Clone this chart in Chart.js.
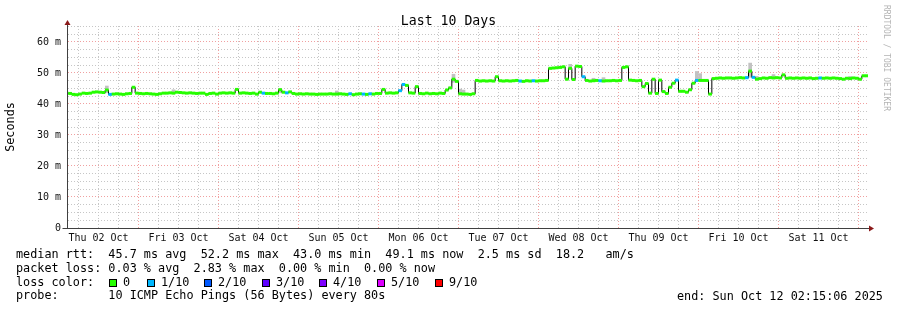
<!DOCTYPE html>
<html>
<head>
<meta charset="utf-8">
<title>Last 10 Days</title>
<script src="https://cdn.jsdelivr.net/npm/chart.js@4.4.0/dist/chart.umd.min.js"></script>
<style>
  html,body{margin:0;padding:0;background:#fff}
  #wrap{position:relative;width:897px;height:310px;overflow:hidden;font-family:'DejaVu Sans Mono',monospace;color:#000}
  #chart{position:absolute;left:0;top:0}
  .t{position:absolute;white-space:pre;font-size:11.8px;line-height:14px}
  .sw{position:absolute;top:279px;width:6px;height:6px;border:1px solid #000}
  #title{position:absolute;left:0;top:13px;width:897px;text-align:center;font-size:13.2px;line-height:16px}
  #mark{position:absolute;left:881px;top:5px;writing-mode:vertical-rl;font-size:8px;line-height:10px;color:#b4b4b4;white-space:pre}
</style>
</head>
<body>
<div id="wrap">
  <canvas id="chart" width="897" height="310"></canvas>
  <div id="title">Last 10 Days</div>
  <div id="mark">RRDTOOL / TOBI OETIKER</div>
  <div class="t" style="left:16px;top:247px">median rtt:  45.7 ms avg  52.2 ms max  43.0 ms min  49.1 ms now  2.5 ms sd  18.2   am/s</div>
  <div class="t" style="left:16px;top:261px">packet loss: 0.03 % avg  2.83 % max  0.00 % min  0.00 % now</div>
  <div class="t" style="left:16px;top:275px">loss color:</div>
  <div id="losslegend"></div>
  <div class="t" style="left:16px;top:288px">probe:       10 ICMP Echo Pings (56 Bytes) every 80s</div>
  <div class="t" style="left:677px;top:289px">end: Sun Oct 12 02:15:06 2025</div>
</div>
<script>
function $(id){return document.getElementById(id)}

const dayLabels = ['Thu 02 Oct','Fri 03 Oct','Sat 04 Oct','Sun 05 Oct','Mon 06 Oct',
  'Tue 07 Oct','Wed 08 Oct','Thu 09 Oct','Fri 10 Oct','Sat 11 Oct'];

// median rtt in ms, one value per hour starting at 00:00 of each day
const rttOct02 = [43.5,43.5,43.5,43.4,43.1,43.0,43.2,43.5,43.4,43.5,43.8,43.9,43.8,43.7,44.5,43.1,43.2,43.3,43.2,43.1,43.3,43.4,45.4,43.5];
const rttOct03 = [43.4,43.3,43.4,43.3,43.2,43.1,43.3,43.5,43.5,43.6,43.5,43.8,43.7,43.6,43.5,43.6,43.5,43.4,43.5,43.5,43.1,43.4,43.5,43.2];
const rttOct04 = [43.5,43.6,43.5,43.6,43.5,44.7,43.5,43.6,43.5,43.4,43.5,43.2,43.8,43.5,43.4,43.4,43.3,43.5,44.6,43.8,43.6,43.9,43.4,43.2];
const rttOct05 = [43.3,43.2,43.3,43.2,43.2,43.1,43.2,43.2,43.2,43.3,43.2,43.2,43.3,43.2,43.1,43.3,43.0,43.2,43.3,43.2,43.1,43.3,43.2,43.4];
const rttOct06 = [43.4,44.7,43.5,43.6,43.5,43.6,44.3,46.3,46.0,43.6,43.5,45.6,43.4,43.3,43.5,43.3,43.4,43.3,43.5,43.4,44.5,45.2,48.0,47.3];
const rttOct07 = [43.3,43.2,43.2,43.1,43.3,47.6,47.4,47.5,47.4,47.5,47.4,48.8,47.5,47.4,47.5,47.4,47.5,47.6,47.4,47.3,47.5,47.4,47.5,47.4];
const rttOct08 = [47.5,47.5,47.6,51.5,51.6,51.7,51.8,52.0,48.0,51.5,47.9,52.2,52.1,48.8,47.6,47.4,47.5,47.6,47.5,47.4,47.5,47.5,47.6,47.5];
const rttOct09 = [47.6,51.8,52.0,47.7,47.6,47.5,47.6,45.6,46.6,43.5,48.0,43.4,47.7,44.0,43.4,45.4,46.7,47.7,44.1,44.1,43.8,44.6,46.7,47.6];
const rttOct10 = [47.6,47.6,47.6,43.2,48.2,48.3,48.4,48.3,48.4,48.4,48.3,48.4,48.5,48.4,48.5,50.6,48.6,48.0,48.2,48.4,48.3,48.5,48.4,48.5];
const rttOct11 = [48.4,49.4,48.3,48.4,48.3,48.4,48.3,48.4,48.3,48.4,48.2,48.3,48.4,48.3,48.4,48.3,48.4,48.3,48.2,48.0,48.3,48.2,48.4,48.3];
const rttOct12 = [48.0,49.1,49.1];

// hours (from Oct 02 00:00) with 1/10 packets lost
const lossHours = [15,61,68,87,91,93,102,103,138,142,157,162,185,191,206,208,228];

// smoke: spread of the pings where it is visible
const smokeHours = [14,34,66,83,118,120,121,153,160,163,191,192,207,209,214,237];
const smokeLow   = [43.6,43.5,43.6,43.2,47.0,43.3,43.2,51.5,47.5,47.4,47.6,47.6,48.6,48.0,48.4,48.3];
const smokeHigh  = [45.8,44.6,45.0,44.2,49.6,44.8,44.5,52.8,48.3,48.5,50.5,49.8,53.2,48.9,49.5,48.9];

// loss colour legend
const lossNames  = ['0','1/10','2/10','3/10','4/10','5/10','9/10'];
const lossColors = ['#26ff00','#00b8ff','#0059ff','#5e00ff','#7e00ff','#dd00ff','#ff0000'];

const FONT = "'DejaVu Sans Mono', monospace";
const MAJOR = '#f0a0a0';
const MINOR = '#c6c6c6';

function buildLegend(){
  const boxX = [109,147,204,262,319,377,435];
  let html = '';
  lossNames.forEach((n,i)=>{
    html += `<div class="sw" style="left:${boxX[i]}px;background:${lossColors[i]}"></div>`;
    html += `<div class="t" style="left:${boxX[i]+14}px;top:275px">${n}</div>`;
  });
  $('losslegend').innerHTML = html;
}

const rttDays = [rttOct02,rttOct03,rttOct04,rttOct05,rttOct06,rttOct07,rttOct08,rttOct09,rttOct10,rttOct11,rttOct12];
const medianPts = [];
rttDays.forEach((vals,d)=>vals.forEach((v,j)=>medianPts.push({x: d*24 + j + 0.5, y: v})));
const smokePts = smokeHours.map((h,i)=>({x: h + 0.5, y: [smokeLow[i], smokeHigh[i]]}));

// draws the axis extensions and the two arrow heads
const axisArrows = {
  id: 'axisArrows',
  afterDraw(chart){
    const {ctx, chartArea: a} = chart;
    const l = Math.round(a.left) + 0.5, b = Math.round(a.bottom) + 0.5;
    ctx.save();
    ctx.strokeStyle = '#404040';
    ctx.lineWidth = 1;
    ctx.beginPath();
    ctx.moveTo(l - 5, b); ctx.lineTo(a.right + 2, b);
    ctx.moveTo(l, b); ctx.lineTo(l, a.top - 2);
    ctx.stroke();
    ctx.fillStyle = '#8b1a1a';
    ctx.beginPath();
    ctx.moveTo(l - 3, a.top - 1); ctx.lineTo(l + 3, a.top - 1); ctx.lineTo(l, a.top - 6);
    ctx.closePath(); ctx.fill();
    ctx.beginPath();
    ctx.moveTo(a.right + 1, b - 3); ctx.lineTo(a.right + 1, b + 3); ctx.lineTo(a.right + 6, b);
    ctx.closePath(); ctx.fill();
    ctx.restore();
  }
};

function drawChart(){
  new Chart($('chart').getContext('2d'), {
    type: 'line',
    data: {
      datasets: [
        {
          label: 'median',
          data: medianPts,
          showLine: false,
          pointStyle: 'line',
          pointRadius: 1.8,
          pointBorderWidth: 3,
          pointBorderColor: c => lossHours.includes(Math.floor(c.raw.x)) ? lossColors[1] : lossColors[0],
          order: 0
        },
        {
          label: 'median line',
          data: medianPts,
          stepped: 'middle',
          borderColor: '#000',
          borderWidth: 1,
          pointRadius: 0,
          fill: false,
          order: 1
        },
        {
          type: 'bar',
          label: 'smoke',
          data: smokePts,
          backgroundColor: '#c2c2c2',
          barThickness: 3,
          order: 2
        }
      ]
    },
    options: {
      responsive: false,
      animation: false,
      devicePixelRatio: 1,
      events: [],
      layout: {padding: {left: 0, right: 29, top: 26, bottom: 62}},
      plugins: {legend: {display: false}, tooltip: {enabled: false}},
      scales: {
        x: {
          type: 'linear',
          min: 2.55,
          max: 242.85,
          offset: false,
          afterFit: s => { s.height = 20; },
          afterBuildTicks: s => {
            const t = [];
            for(let h=6; h<=240; h+=6) t.push({value: h});
            s.ticks = t;
          },
          ticks: {
            autoSkip: false,
            maxRotation: 0,
            padding: 4,
            color: '#111',
            font: {family: FONT, size: 10},
            callback: v => v % 24 === 12 ? dayLabels[Math.floor(v/24)] : ''
          },
          grid: {
            offset: false,
            drawTicks: false,
            color: c => c.tick && c.tick.value % 24 === 0 ? MAJOR : MINOR
          },
          border: {display: true, color: '#404040', dash: [1,2]}
        },
        y: {
          min: 0,
          max: 65.16,
          afterFit: s => { s.width = 67; },
          afterBuildTicks: s => {
            const t = [];
            for(let v=0; v<=65; v+=2.5) t.push({value: v});
            s.ticks = t;
          },
          ticks: {
            autoSkip: false,
            padding: 6,
            color: '#111',
            font: {family: FONT, size: 10},
            callback: v => v % 10 !== 0 ? '' : (v === 0 ? '0' : v + ' m')
          },
          grid: {
            drawTicks: false,
            color: c => c.tick && c.tick.value % 10 === 0 ? MAJOR : MINOR
          },
          border: {display: true, color: '#404040', dash: [1,2]},
          title: {
            display: true,
            text: 'Seconds',
            color: '#000',
            padding: {top: 4, bottom: 4},
            font: {family: FONT, size: 11.8}
          }
        }
      }
    },
    plugins: [axisArrows]
  });
}

window.addEventListener('DOMContentLoaded', ()=>{
  buildLegend();
  drawChart();
});
</script>
</body>
</html>
